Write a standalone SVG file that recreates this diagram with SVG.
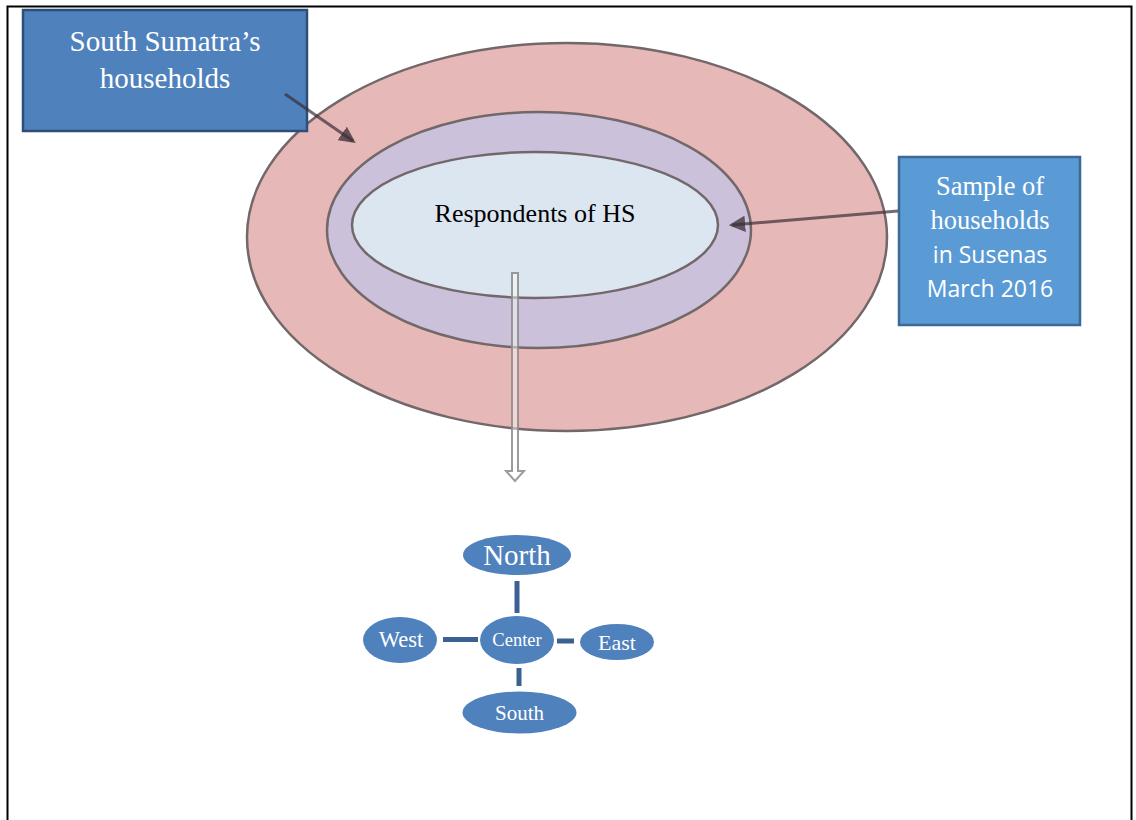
<svg xmlns="http://www.w3.org/2000/svg" width="1136" height="820" viewBox="0 0 1136 820">
  <defs>
    <style>
      .ring { stroke: #736869; stroke-width: 2.5; }
      .box-a { fill: #4f81bd; stroke: #2e4e76; stroke-width: 2.5; }
      .box-b { fill: #5b9bd5; stroke: #3c6a96; stroke-width: 2.5; }
      .serif { font-family: "Liberation Serif", "Times New Roman", serif; fill: #ffffff; }
      .sans { font-family: "Open Sans", "Liberation Sans", sans-serif; fill: #ffffff; }
      .pointer { stroke: #3a2e36; stroke-opacity: 0.7; stroke-width: 3; fill: none; }
      .spoke { stroke: #3a6192; stroke-width: 5; }
      .region { fill: #4f81bd; }
    </style>
    <marker id="tri" viewBox="0 0 10 10" refX="8" refY="5" markerWidth="5.5" markerHeight="5.5" orient="auto" markerUnits="strokeWidth">
      <path d="M0,0 L10,5 L0,10 z" fill="#3a2e36" fill-opacity="0.75"/>
    </marker>
  </defs>

  <!-- page frame -->
  <rect x="7.5" y="6.5" width="1124" height="830" fill="#ffffff" stroke="#000000" stroke-width="2"/>

  <!-- nested populations -->
  <g id="population">
    <ellipse class="ring" cx="567" cy="237" rx="320" ry="194" fill="#e6b8b7"/>
  </g>
  <g id="sample">
    <ellipse class="ring" cx="539" cy="230" rx="212" ry="118" fill="#ccc1da"/>
  </g>
  <g id="respondents">
    <ellipse class="ring" cx="535" cy="225" rx="183" ry="73" fill="#dce6f1"/>
    <text x="535" y="222" text-anchor="middle" font-family="Liberation Serif, Times New Roman, serif" font-size="26" fill="#000000">Respondents of HS</text>
  </g>

  <!-- callout boxes -->
  <g id="label-province">
    <rect class="box-a" x="23" y="10" width="284" height="121"/>
    <text class="serif" x="165" y="51" text-anchor="middle" font-size="29">South Sumatra’s</text>
    <text class="serif" x="165" y="88" text-anchor="middle" font-size="29">households</text>
  </g>
  <g id="label-susenas">
    <rect class="box-b" x="899" y="157" width="181" height="168"/>
    <text class="serif" x="990" y="195" text-anchor="middle" font-size="26.5">Sample of</text>
    <text class="serif" x="990" y="229" text-anchor="middle" font-size="26.5">households</text>
    <text class="sans" x="990" y="263" text-anchor="middle" font-size="23">in Susenas</text>
    <text class="sans" x="990" y="297" text-anchor="middle" font-size="23">March 2016</text>
  </g>

  <!-- connectors -->
  <g id="connectors">
    <line class="pointer" x1="285" y1="94" x2="353" y2="141" marker-end="url(#tri)"/>
    <line class="pointer" x1="898" y1="211" x2="732" y2="225" marker-end="url(#tri)"/>
    <!-- hollow block arrow down to the regional split -->
    <path d="M512,273 L518,273 L518,471 L524,471 L515,481 L506,471 L512,471 Z" fill="#ffffff" fill-opacity="0.45" stroke="#8a8a8a" stroke-opacity="0.85" stroke-width="2"/>
    <line class="spoke" x1="517" y1="581" x2="517" y2="613"/>
    <line class="spoke" x1="443" y1="639.5" x2="478" y2="639.5"/>
    <line class="spoke" x1="557" y1="641" x2="574" y2="641"/>
    <line class="spoke" x1="519" y1="668" x2="519" y2="686"/>
  </g>

  <!-- regional nodes -->
  <g id="north">
    <ellipse class="region" cx="517" cy="555" rx="54" ry="20"/>
    <text class="serif" x="517" y="565" text-anchor="middle" font-size="29">North</text>
  </g>
  <g id="west">
    <ellipse class="region" cx="400" cy="640" rx="37" ry="23"/>
    <text class="serif" x="401" y="647" text-anchor="middle" font-size="22.5">West</text>
  </g>
  <g id="center">
    <ellipse class="region" cx="517" cy="640" rx="37" ry="24"/>
    <text class="serif" x="517" y="646" text-anchor="middle" font-size="18.5">Center</text>
  </g>
  <g id="east">
    <ellipse class="region" cx="617" cy="642" rx="37" ry="18"/>
    <text class="serif" x="617" y="650" text-anchor="middle" font-size="22">East</text>
  </g>
  <g id="south">
    <ellipse class="region" cx="519.5" cy="712.5" rx="57" ry="21"/>
    <text class="serif" x="519.5" y="720" text-anchor="middle" font-size="21">South</text>
  </g>
</svg>
